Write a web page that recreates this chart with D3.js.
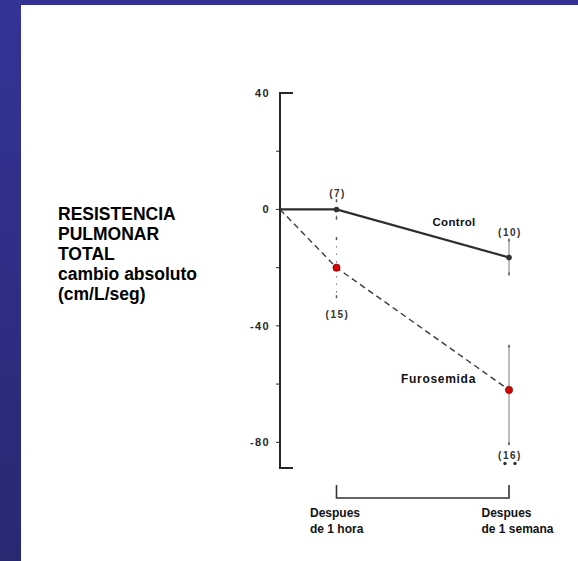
<!DOCTYPE html>
<html>
<head>
<meta charset="utf-8">
<script src="https://cdn.jsdelivr.net/npm/d3@7"></script>
<style>
  html, body { margin: 0; padding: 0; background: #fff; }
  svg { display: block; }
</style>
</head>
<body>
<svg id="chart" width="578" height="561"></svg>
<script>
// Time points: baseline, after 1 hour, after 1 week
const timePoints = ["inicio", "1h", "1sem"];
const timeLabels = [["Despues", "de 1 hora"], ["Despues", "de 1 semana"]];

// Absolute change in total pulmonary resistance (cm/L/seg)
const controlMean = [0, 0, -16.5];
const controlLow  = [null, -3, -22.2];
const controlHigh = [null, 3, -10.5];
const controlN    = [null, "(7)", "(10)"];

const furoMean = [0, -20, -62];
const furoLow  = [null, -30, -80.5];
const furoHigh = [null, -10, -47];
const furoN    = [null, "(15)", "(16)"];

const yTicks = [40, 0, -40, -80];
const yMinorTicks = [20, -20, -60];
const yDomain = [-88.8, 40];

const titleLines = ["RESISTENCIA", "PULMONAR", "TOTAL", "cambio absoluto", "(cm/L/seg)"];

const svg = d3.select("#chart");
const W = 578, H = 561;

// Slide frame: blue bands on top and left
const defs = svg.append("defs");
const grad = defs.append("linearGradient").attr("id", "band")
  .attr("x1", 0).attr("y1", 0).attr("x2", 0).attr("y2", 1);
grad.append("stop").attr("offset", "0%").attr("stop-color", "#343497");
grad.append("stop").attr("offset", "100%").attr("stop-color", "#282873");
svg.append("rect").attr("x", 0).attr("y", 0).attr("width", W).attr("height", 5).attr("fill", "#333396");
svg.append("rect").attr("x", 0).attr("y", 0).attr("width", 21).attr("height", H).attr("fill", "url(#band)");

// Scales
const y = d3.scaleLinear().domain(yDomain).range([467.9, 93]);
const x = d3.scaleOrdinal().domain(timePoints).range([280, 336.5, 509]);

const ink = "#262626";

// Y axis line with caps at the top and bottom
const axisX = x("inicio");
svg.append("path")
  .attr("d", `M${axisX + 13},${y(yDomain[1])} H${axisX} V${y(yDomain[0])} H${axisX + 13}`)
  .attr("fill", "none").attr("stroke", ink).attr("stroke-width", 2);

// Ticks (left side of the axis)
[...yTicks.filter(t => t !== 40), ...yMinorTicks].forEach(t => {
  svg.append("line")
    .attr("x1", axisX - 4).attr("x2", axisX)
    .attr("y1", y(t)).attr("y2", y(t))
    .attr("stroke", ink).attr("stroke-width", 1);
});

// Tick labels
svg.append("g").selectAll("text").data(yTicks).join("text")
  .attr("x", axisX - 10)
  .attr("y", d => y(d))
  .attr("dy", "0.36em")
  .attr("text-anchor", "end")
  .attr("font-family", "Liberation Sans, Arial, sans-serif")
  .attr("font-weight", "bold")
  .attr("font-size", 11)
  .attr("letter-spacing", 1.4)
  .attr("fill", ink)
  .text(d => d);

// Error bars (thin dotted at 1 hour, thin solid at 1 week)
function errorBars(low, high, dotted) {
  timePoints.forEach((t, i) => {
    if (low[i] == null) return;
    const ln = svg.append("line")
      .attr("x1", x(t)).attr("x2", x(t))
      .attr("y1", y(high[i])).attr("y2", y(low[i]))
      .attr("stroke", "#7a7a7a").attr("stroke-width", 1);
    if (dotted[i]) ln.attr("stroke-dasharray", "1.5,6");
    [high[i], low[i]].forEach(v => {
      svg.append("line")
        .attr("x1", x(t)).attr("x2", x(t))
        .attr("y1", y(v) - 1.5).attr("y2", y(v) + 1.5)
        .attr("stroke", "#555").attr("stroke-width", 1.5);
    });
  });
}
errorBars(controlLow, controlHigh, [false, true, false]);
errorBars(furoLow, furoHigh, [false, true, false]);

// Series lines
const line = d3.line().x((d, i) => x(timePoints[i])).y(d => y(d));
svg.append("path").datum(controlMean)
  .attr("d", line).attr("fill", "none")
  .attr("stroke", "#2e2e2e").attr("stroke-width", 2.2);
svg.append("path").datum(furoMean)
  .attr("d", line).attr("fill", "none")
  .attr("stroke", "#3a3a3a").attr("stroke-width", 1.4)
  .attr("stroke-dasharray", "6,4");

// Markers
svg.append("g").selectAll("circle").data(controlMean.slice(1)).join("circle")
  .attr("cx", (d, i) => x(timePoints[i + 1]))
  .attr("cy", d => y(d))
  .attr("r", 2.8).attr("fill", "#333");
svg.append("g").selectAll("circle").data(furoMean.slice(1)).join("circle")
  .attr("cx", (d, i) => x(timePoints[i + 1]))
  .attr("cy", d => y(d))
  .attr("r", 3.6).attr("fill", "#e00000").attr("stroke", "#7a1010").attr("stroke-width", 0.8);

// Sample sizes
const nStyle = sel => sel
  .attr("text-anchor", "middle")
  .attr("font-family", "Liberation Sans, Arial, sans-serif")
  .attr("font-weight", "bold")
  .attr("font-size", 10)
  .attr("letter-spacing", 1.5)
  .attr("fill", "#333");
svg.append("text").call(nStyle).attr("x", x("1h") + 1).attr("y", 196.5).text(controlN[1]);
svg.append("text").call(nStyle).attr("x", x("1sem") + 1).attr("y", 235.5).text(controlN[2]);
svg.append("text").call(nStyle).attr("x", x("1h") + 1).attr("y", 317.5).text(furoN[1]);
svg.append("text").call(nStyle).attr("x", x("1sem") + 1).attr("y", 458.5).text(furoN[2]);

// Significance marks under the 1 week group
[-4, 6].forEach(dx => {
  svg.append("circle").attr("cx", x("1sem") + dx).attr("cy", 463.5).attr("r", 1.7).attr("fill", "#333");
});

// Series names
const nameStyle = sel => sel
  .attr("font-family", "Liberation Sans, Arial, sans-serif")
  .attr("font-weight", "bold")
  .attr("fill", "#111");
svg.append("text").call(nameStyle).attr("font-size", 11.5).attr("letter-spacing", 0.3)
  .attr("x", 432.5).attr("y", 226).text("Control");
svg.append("text").call(nameStyle).attr("font-size", 12).attr("letter-spacing", 0.7)
  .attr("x", 401).attr("y", 383.3).text("Furosemida");

// Bracket spanning the two time points
const bracketY = 498;
svg.append("path")
  .attr("d", `M${x("1h")},485 V${bracketY} H${x("1sem")} V485`)
  .attr("fill", "none").attr("stroke", "#333").attr("stroke-width", 1.6);

// Time point labels
const tlX = [310, 481.5];
timeLabels.forEach((lines, i) => {
  const t = svg.append("text")
    .attr("font-family", "Liberation Sans, Arial, sans-serif")
    .attr("font-weight", "bold").attr("font-size", 12).attr("fill", "#111");
  lines.forEach((s, j) => {
    t.append("tspan").attr("x", tlX[i]).attr("y", 516.7 + j * 16).text(s);
  });
});

// Axis title block
const tt = svg.append("text")
  .attr("font-family", "Liberation Sans, Arial, sans-serif")
  .attr("font-weight", "bold").attr("font-size", 17.5).attr("fill", "#000");
titleLines.forEach((s, j) => {
  tt.append("tspan").attr("x", 58).attr("y", 219.5 + j * 20).text(s);
});
</script>
</body>
</html>
